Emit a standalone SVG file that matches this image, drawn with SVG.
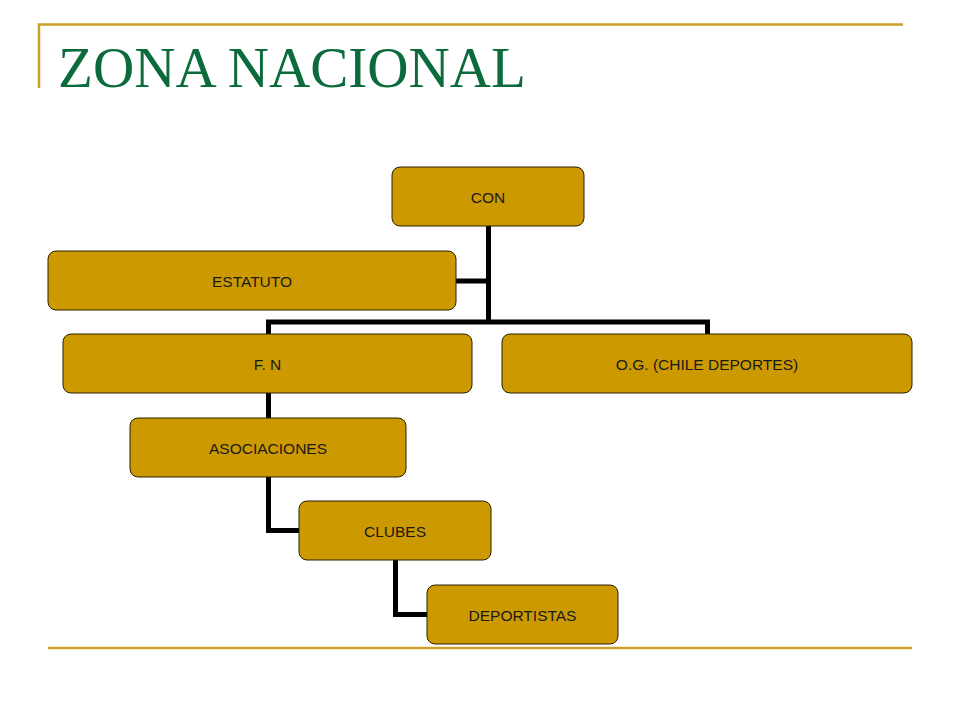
<svg xmlns="http://www.w3.org/2000/svg" width="960" height="720" viewBox="0 0 960 720">
<style>
.box{fill:#CC9900;stroke:#2a2000;stroke-width:1}
.lbl{font-family:"Liberation Sans",Arial,sans-serif;font-size:15.5px;fill:#1a1a1a;text-anchor:middle}
.rule{stroke:#C9A227;stroke-width:2.5;fill:none}
.conn{stroke:#000;stroke-width:5;fill:none;stroke-linejoin:miter}
</style>
<rect width="960" height="720" fill="#fff"/>
<g id="frame">
<path class="rule" d="M39 88 V24.5 H903"/>
<path class="rule" d="M48 648 H912"/>
</g>
<text x="58" y="87" font-family="'Liberation Serif','Times New Roman',serif" font-size="57" fill="#0B6B3A" textLength="468" lengthAdjust="spacingAndGlyphs">ZONA NACIONAL</text>
<g id="connectors">
<path class="conn" d="M488.5 226 V322"/>
<path class="conn" d="M268.5 334 V322 H707.5 V334"/>
<path class="conn" d="M456 281 H488.5"/>
<path class="conn" d="M268.5 393 V418"/>
<path class="conn" d="M268.5 477 V530.5 H299"/>
<path class="conn" d="M395.5 560 V614.5 H427"/>
</g>
<g id="n-con"><rect class="box" x="392" y="167" width="192" height="59" rx="8"/><text class="lbl" x="488" y="202.5">CON</text></g>
<g id="n-estatuto"><rect class="box" x="48" y="251" width="408" height="59" rx="8"/><text class="lbl" x="252" y="286.5">ESTATUTO</text></g>
<g id="n-fn"><rect class="box" x="63" y="334" width="409" height="59" rx="8"/><text class="lbl" x="267.5" y="369.5">F. N</text></g>
<g id="n-og"><rect class="box" x="502" y="334" width="410" height="59" rx="8"/><text class="lbl" x="707" y="369.5">O.G. (CHILE DEPORTES)</text></g>
<g id="n-asoc"><rect class="box" x="130" y="418" width="276" height="59" rx="8"/><text class="lbl" x="268" y="453.5">ASOCIACIONES</text></g>
<g id="n-clubes"><rect class="box" x="299" y="501" width="192" height="59" rx="8"/><text class="lbl" x="395" y="536.5">CLUBES</text></g>
<g id="n-deportistas"><rect class="box" x="427" y="585" width="191" height="59" rx="8"/><text class="lbl" x="522.5" y="620.5">DEPORTISTAS</text></g>
</svg>
